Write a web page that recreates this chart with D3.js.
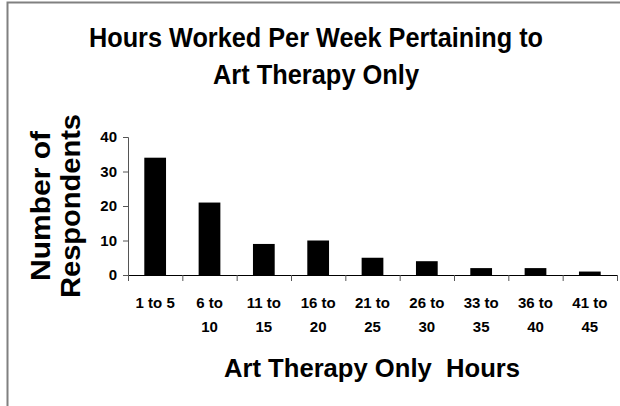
<!DOCTYPE html>
<html>
<head>
<meta charset="utf-8">
<script src="https://cdn.jsdelivr.net/npm/d3@7/dist/d3.min.js"></script>
<style>
	body { margin: 0; background: #fff; }
	text { font-family: "Liberation Sans", Arial, sans-serif; font-weight: bold; fill: #000; }
</style>
</head>
<body>
<svg id="chart" width="620" height="406"></svg>
<script>
const categories = ["1 to 5", "6 to 10", "11 to 15", "16 to 20", "21 to 25", "26 to 30", "33 to 35", "36 to 40", "41 to 45"];
const respondents = [34, 21, 9, 10, 5, 4, 2, 2, 1];
const tickLines = [["1 to 5"], ["6 to", "10"], ["11 to", "15"], ["16 to", "20"], ["21 to", "25"], ["26 to", "30"], ["33 to", "35"], ["36 to", "40"], ["41 to", "45"]];
const yTicks = [0, 10, 20, 30, 40];
const titleLines = ["Hours Worked Per Week Pertaining to", "Art Therapy Only"];
const yTitleLines = ["Number of", "Respondents"];
const xTitle = "Art Therapy Only  Hours";

const svg = d3.select("#chart");

// outer frame (top and left edges only visible)
svg.append("path")
	.attr("d", "M7.5,406 V2.5 H620")
	.attr("fill", "none")
	.attr("stroke", "#808080")
	.attr("stroke-width", 2);

const x = d3.scaleBand()
	.domain(categories)
	.range([128, 617])
	.paddingInner(0.6)
	.paddingOuter(0.3);

const y = d3.scaleLinear()
	.domain([0, 40])
	.range([275, 137]);

// bars
svg.append("g")
	.selectAll("rect")
	.data(respondents).enter()
	.append("rect")
	.attr("x", (d, i) => x(categories[i]))
	.attr("y", d => y(d))
	.attr("width", x.bandwidth())
	.attr("height", d => y(0) - y(d))
	.attr("fill", "#000");

// y axis
const yAxis = svg.append("g")
	.attr("transform", "translate(128,0)")
	.call(d3.axisLeft(y).tickValues(yTicks).tickSize(5).tickPadding(6));
yAxis.select(".domain").attr("stroke", "#555");
yAxis.selectAll(".tick line").attr("stroke", "#555");
yAxis.selectAll(".tick text")
	.style("font-size", "15px")
	.attr("fill", "#000");

// x axis line and boundary ticks
const step = x.step();
const x0 = x.range()[0];
svg.append("line")
	.attr("x1", x0).attr("x2", x.range()[1])
	.attr("y1", y(0) + 0.5).attr("y2", y(0) + 0.5)
	.attr("stroke", "#000");
svg.append("g")
	.selectAll("line")
	.data(d3.range(categories.length + 1)).enter()
	.append("line")
	.attr("x1", i => x0 + i * step + 0.5)
	.attr("x2", i => x0 + i * step + 0.5)
	.attr("y1", y(0))
	.attr("y2", y(0) + 6)
	.attr("stroke", "#555");

// x tick labels, wrapped into two lines
const labels = svg.append("g")
	.selectAll("text")
	.data(categories).enter()
	.append("text")
	.attr("text-anchor", "middle")
	.style("font-size", "15px")
	.attr("transform", d => `translate(${x(d) + x.bandwidth() / 2},0)`);
labels.each(function(d, i) {
	d3.select(this).selectAll("tspan")
		.data(tickLines[i]).enter()
		.append("tspan")
		.attr("x", 0)
		.attr("y", (t, j) => 308 + j * 24)
		.text(t => t);
});

// chart title
svg.append("g")
	.selectAll("text")
	.data(titleLines).enter()
	.append("text")
	.attr("x", 316)
	.attr("y", (d, i) => 47 + i * 37)
	.attr("text-anchor", "middle")
	.attr("textLength", (d, i) => i === 0 ? 454 : 206)
	.attr("lengthAdjust", "spacingAndGlyphs")
	.style("font-size", "27px")
	.text(d => d);

// y axis title
svg.append("g")
	.selectAll("text")
	.data(yTitleLines).enter()
	.append("text")
	.attr("text-anchor", "middle")
	.attr("transform", (d, i) => `translate(${i === 0 ? 50 : 80},206) rotate(-90)`)
	.attr("textLength", (d, i) => i === 0 ? 150 : 184)
	.attr("lengthAdjust", "spacingAndGlyphs")
	.style("font-size", "27px")
	.text(d => d);

// x axis title
svg.append("text")
	.attr("x", 372)
	.attr("y", 377)
	.attr("text-anchor", "middle")
	.attr("textLength", 296)
	.attr("lengthAdjust", "spacingAndGlyphs")
	.style("font-size", "26px")
	.style("white-space", "pre")
	.text(xTitle);
</script>
</body>
</html>
